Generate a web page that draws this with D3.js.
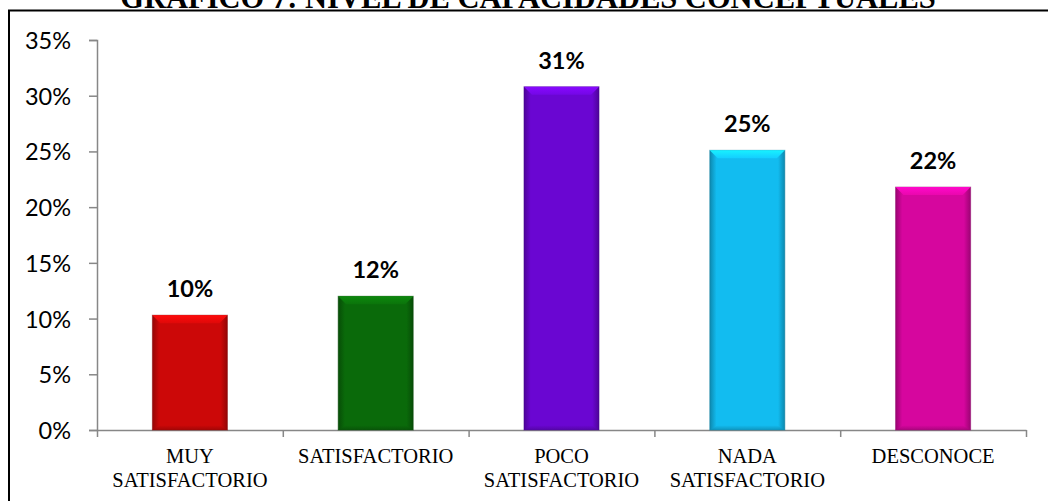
<!DOCTYPE html>
<html>
<head>
<meta charset="utf-8">
<script src="https://cdn.jsdelivr.net/npm/d3@7"></script>
<style>
  html, body { margin: 0; padding: 0; background: #fff; }
  svg { display: block; }
</style>
</head>
<body>
<svg id="chart" width="1048" height="501"></svg>
<script>
const title = "GRAFICO 7: NIVEL DE CAPACIDADES CONCEPTUALES";
const categories = ["MUY SATISFACTORIO", "SATISFACTORIO", "POCO SATISFACTORIO", "NADA SATISFACTORIO", "DESCONOCE"];
const values = [0.103, 0.120, 0.308, 0.251, 0.218];
const barColors = ["#cc0808", "#0a6a0a", "#6a06d2", "#12bcf0", "#d6069e"];
const yTicks = [0, 0.05, 0.10, 0.15, 0.20, 0.25, 0.30, 0.35];

const svg = d3.select("#chart");
const W = 1048, H = 501;
const plot = { left: 97, right: 1026, top: 40, bottom: 430 };

// Frame
svg.append("path")
  .attr("d", `M9,${H + 5} L9,10.5 L${W + 5},10.5`)
  .attr("fill", "none").attr("stroke", "#000").attr("stroke-width", 2);

// Title
svg.append("text")
  .attr("x", 528).attr("y", 8)
  .attr("text-anchor", "middle")
  .attr("font-family", "'Liberation Serif', 'Times New Roman', serif")
  .attr("font-weight", "bold")
  .attr("font-size", 30.5)
  .text(title);

const y = d3.scaleLinear().domain([0, 0.35]).range([plot.bottom, plot.top]);
const x = d3.scaleBand().domain(categories).range([plot.left, plot.right])
  .paddingInner(0.596).paddingOuter(0.298);
const xEdges = d3.scaleLinear().domain([0, categories.length]).range([plot.left, plot.right]);

// Y axis
const yAxis = svg.append("g").attr("transform", `translate(${plot.left},0)`)
  .call(d3.axisLeft(y).tickValues(yTicks).tickFormat(d3.format(".0%")).tickSize(8).tickPadding(18));
yAxis.select(".domain").attr("stroke", "#878787").attr("stroke-width", 1.5);
yAxis.selectAll(".tick line").attr("stroke", "#878787").attr("stroke-width", 1.5);
yAxis.selectAll(".tick text")
  .attr("font-family", "Lato, 'Open Sans', sans-serif")
  .attr("font-size", 23.5).attr("fill", "#000")
  .attr("dy", "0.36em");

// X axis (ticks at category boundaries)
const xAxis = svg.append("g").attr("transform", `translate(0,${plot.bottom})`)
  .call(d3.axisBottom(xEdges).tickValues(d3.range(categories.length + 1)).tickFormat("").tickSize(7).tickSizeOuter(0));
xAxis.select(".domain").attr("stroke", "#878787").attr("stroke-width", 1.5);
xAxis.selectAll(".tick line").attr("stroke", "#878787").attr("stroke-width", 1.5);

// Gradients and bars
const defs = svg.append("defs");
categories.forEach((c, i) => {
  const base = d3.color(barColors[i]);
  const g = defs.append("linearGradient").attr("id", "bg" + i)
    .attr("x1", "0%").attr("x2", "100%").attr("y1", "0%").attr("y2", "0%");
  g.append("stop").attr("offset", "0%").attr("stop-color", base.darker(0.9));
  g.append("stop").attr("offset", "9%").attr("stop-color", base);
  g.append("stop").attr("offset", "91%").attr("stop-color", base);
  g.append("stop").attr("offset", "100%").attr("stop-color", base.darker(0.9));
  const t = defs.append("linearGradient").attr("id", "tg" + i)
    .attr("x1", "0%").attr("x2", "0%").attr("y1", "0%").attr("y2", "100%");
  t.append("stop").attr("offset", "0%").attr("stop-color", base.brighter(0.7));
  t.append("stop").attr("offset", "100%").attr("stop-color", base.brighter(0.25));
  const b = defs.append("linearGradient").attr("id", "bb" + i)
    .attr("x1", "0%").attr("x2", "0%").attr("y1", "0%").attr("y2", "100%");
  b.append("stop").attr("offset", "0%").attr("stop-color", base);
  b.append("stop").attr("offset", "100%").attr("stop-color", base.darker(0.8));
});

const bev = 8;
const bars = svg.append("g").selectAll("g").data(categories).join("g");
bars.append("rect")
  .attr("x", d => x(d)).attr("y", (d, i) => y(values[i]))
  .attr("width", x.bandwidth()).attr("height", (d, i) => y(0) - y(values[i]))
  .attr("fill", (d, i) => `url(#bg${i})`)
  .attr("stroke", (d, i) => d3.color(barColors[i]).darker(1.2))
  .attr("stroke-opacity", 0.5).attr("stroke-width", 1);
// bottom bevel
bars.append("polygon")
  .attr("points", (d, i) => {
    const x0 = x(d), x1 = x(d) + x.bandwidth(), yb = y(0);
    return [[x0, yb], [x1, yb], [x1 - bev, yb - bev * 0.6], [x0 + bev, yb - bev * 0.6]].join(" ");
  })
  .attr("fill", (d, i) => `url(#bb${i})`).attr("opacity", 0.8);
// top bevel
bars.append("polygon")
  .attr("points", (d, i) => {
    const x0 = x(d), x1 = x(d) + x.bandwidth(), yt = y(values[i]);
    return [[x0, yt], [x1, yt], [x1 - bev, yt + bev], [x0 + bev, yt + bev]].join(" ");
  })
  .attr("fill", (d, i) => `url(#tg${i})`);

// Value labels
bars.append("text")
  .attr("x", d => x(d) + x.bandwidth() / 2)
  .attr("y", (d, i) => y(values[i]) - 18)
  .attr("text-anchor", "middle")
  .attr("font-family", "Lato, 'Open Sans', sans-serif")
  .attr("font-weight", "bold")
  .attr("font-size", 23.5)
  .text((d, i) => d3.format(".0%")(values[i]));

// Category labels (wrapped to band slot width)
const labelG = svg.append("g");
categories.forEach((c, i) => {
  const cx = x(c) + x.bandwidth() / 2;
  const t = labelG.append("text")
    .attr("x", cx).attr("y", 462.5)
    .attr("text-anchor", "middle")
    .attr("font-family", "'Liberation Serif', 'Times New Roman', serif")
    .attr("font-size", 20.5);
  const maxW = x.step() - 8;
  const words = c.split(" ");
  let line = [];
  let ts = t.append("tspan").attr("x", cx).attr("dy", 0);
  words.forEach(w => {
    line.push(w);
    ts.text(line.join(" "));
    if (ts.node().getComputedTextLength() > maxW && line.length > 1) {
      line.pop();
      ts.text(line.join(" "));
      line = [w];
      ts = t.append("tspan").attr("x", cx).attr("dy", 24).text(w);
    }
  });
});
</script>
</body>
</html>
